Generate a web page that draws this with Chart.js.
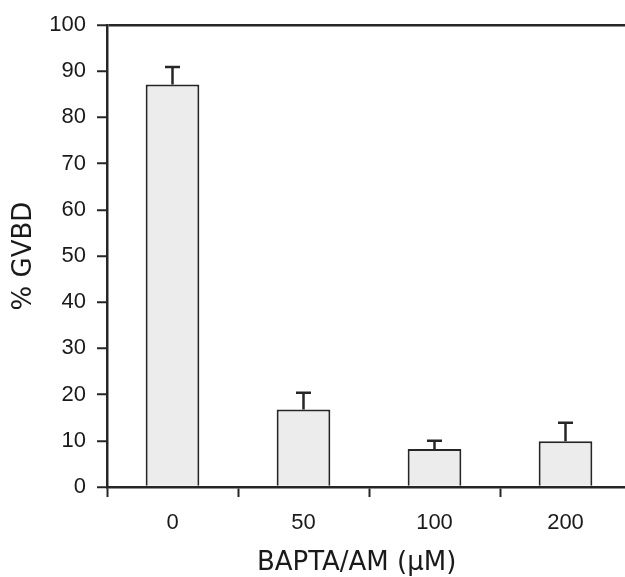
<!DOCTYPE html>
<html>
<head>
<meta charset="utf-8">
<script src="https://cdn.jsdelivr.net/npm/chart.js@4.4.0/dist/chart.umd.min.js"></script>
<style>
  html, body { margin: 0; padding: 0; background: #fff; overflow: hidden; }
  #wrap { width: 640px; height: 577px; }
</style>
</head>
<body>
<div id="wrap"><canvas id="myChart" width="640" height="577"></canvas></div>
<script>
const doses = ["0", "50", "100", "200"];
const gvbd = [87.1, 16.8, 8.2, 9.9];
const gvbdErr = [3.8, 3.6, 1.8, 4.0];
const yTicks = [0, 10, 20, 30, 40, 50, 60, 70, 80, 90, 100];

const ink = "#262626";
const tickFont = { family: "'Liberation Sans', Arial, sans-serif", size: 22 };
const titleFont = { family: "'DejaVu Sans', Verdana, sans-serif", size: 26, lineHeight: 1 };

// error bars, top side only
const errorBars = {
  id: "errorBars",
  afterDatasetsDraw(chart) {
    const ctx = chart.ctx;
    const x = chart.scales.x;
    const y = chart.scales.y;
    ctx.save();
    ctx.strokeStyle = ink;
    ctx.lineWidth = 2.5;
    gvbd.forEach((v, i) => {
      const cx = x.getPixelForValue(i);
      const y0 = y.getPixelForValue(v);
      const y1 = y.getPixelForValue(v + gvbdErr[i]);
      ctx.beginPath();
      ctx.moveTo(cx, y0);
      ctx.lineTo(cx, y1);
      ctx.moveTo(cx - 7.5, y1);
      ctx.lineTo(cx + 7.5, y1);
      ctx.stroke();
    });
    ctx.restore();
  },
};

const config = {
  type: "bar",
  data: {
    labels: doses,
    datasets: [
      {
        data: gvbd,
        backgroundColor: "#ececec",
        borderColor: ink,
        borderWidth: 2,
        barPercentage: 0.41,
        categoryPercentage: 1,
      },
    ],
  },
  options: {
    responsive: false,
    animation: false,
    plugins: { legend: { display: false }, tooltip: { enabled: false } },
    layout: { padding: { top: 25, left: 0, right: 9, bottom: 0 } },
    scales: {
      x: {
        offset: true,
        grid: {
          offset: true,
          drawOnChartArea: false,
          tickLength: 10,
          tickColor: ink,
          tickWidth: 2,
        },
        border: { color: ink, width: 2.5 },
        ticks: { color: "#1a1a1a", font: tickFont, padding: 13 },
        title: {
          display: true,
          // the trailing spaces push the title a little left, as in the original
          text: "BAPTA/AM (µM)\u00a0\u00a0\u00a0",
          color: "#1a1a1a",
          font: titleFont,
          padding: { top: 0, bottom: 1 },
        },
        afterFit(scale) {
          scale.height = 90;
        },
      },
      y: {
        min: 0,
        max: 100,
        afterBuildTicks(scale) {
          scale.ticks = yTicks.map((v) => ({ value: v }));
        },
        grid: {
          color: (c) => (c.tick && c.tick.value === 100 ? ink : "transparent"),
          lineWidth: 2.5,
          tickLength: 10,
          tickColor: ink,
          tickWidth: 2,
        },
        border: { color: ink, width: 2.5 },
        ticks: { color: "#1a1a1a", font: tickFont, padding: 11 },
        title: {
          display: true,
          text: "% GVBD",
          color: "#1a1a1a",
          font: titleFont,
          padding: { top: 11, bottom: 0 },
        },
        afterFit(scale) {
          scale.width = 107;
        },
      },
    },
  },
  plugins: [errorBars],
};

new Chart(document.getElementById("myChart"), config);
</script>
</body>
</html>
